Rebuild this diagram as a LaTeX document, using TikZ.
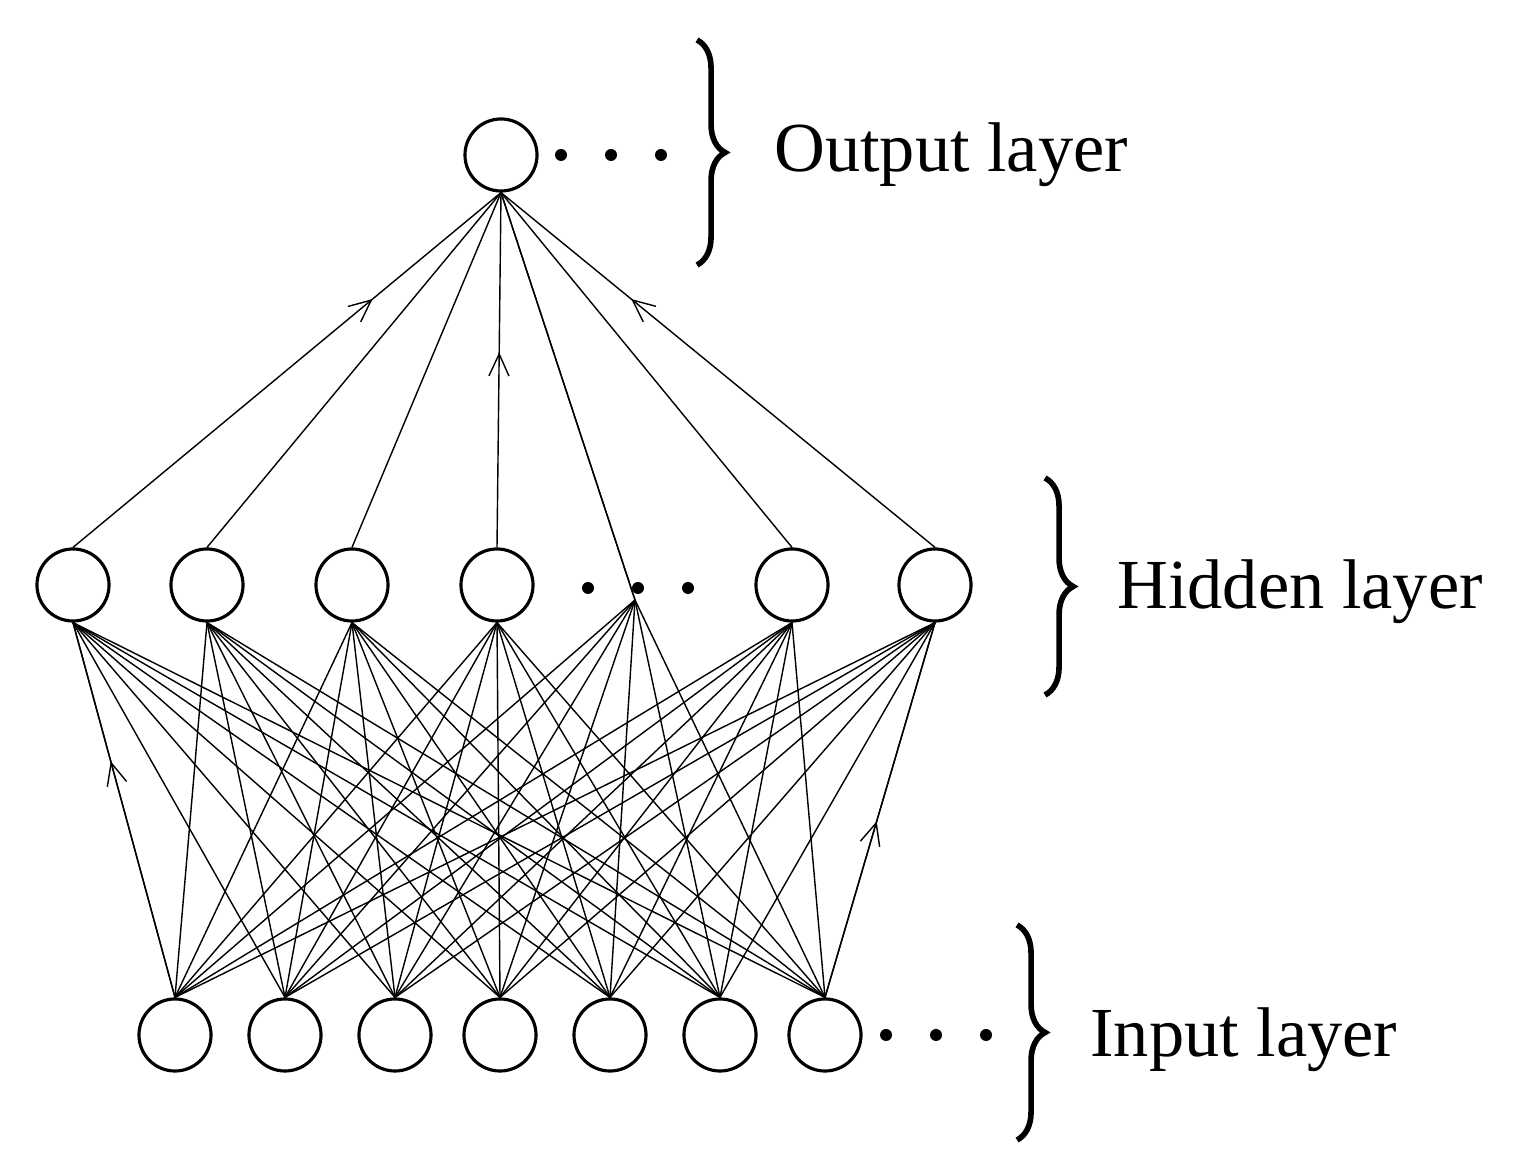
\documentclass[tikz,border=0pt]{standalone}
\usepackage{fontspec}
\setmainfont{Liberation Serif}
\usepackage{tikz}
\usetikzlibrary{decorations.pathreplacing, decorations.markings, arrows.meta}
\tikzstyle{neuron} = [circle, draw=black, line width=0.9pt, minimum size=0.72cm, inner sep=0pt, fill=white]
\tikzstyle{link} = [line width=0.4pt]
\tikzstyle{midarrow} = [link, postaction={decorate}, decoration={markings, mark=at position #1 with {\arrow{Straight Barb[length=2.2mm,width=2mm]}}}]
\tikzstyle{layerbrace} = [decorate, decoration={brace, amplitude=8pt}, line width=1.6pt]
\tikzstyle{label} = [font=\fontsize{20}{24}\selectfont, anchor=west]
\tikzstyle{dot} = [circle, fill=black, inner sep=0pt, minimum size=1.2mm]

\begin{document}
\begin{tikzpicture}[x=0.01cm, y=-0.01cm]
            \useasboundingbox (0,0) rectangle (1539,1168);
            % layers
            \node (out) [neuron] at (501,155) {};
            \foreach \i/\x in {1/73, 2/207, 3/352, 4/497, 6/792, 7/935}
                \node (hid\i) [neuron] at (\x,585) {};
            \coordinate (hid5) at (635,600);
            \foreach \i/\x in {1/175, 2/285, 3/395, 4/500, 5/610, 6/720, 7/825}
                \node (in\i) [neuron] at (\x,1035) {};

            \foreach \x in {561,611,661}
                \node [dot] at (\x,155) {};
            \foreach \x in {588,638,688}
                \node [dot] at (\x,588) {};
            \foreach \x in {886,936,986}
                \node [dot] at (\x,1035) {};

            % connections
            \foreach \j in {2,3,5,6}
                \draw [link] (hid\j.north) -- (out.south);
            \draw [link] (hid5) -- (out.south);
            \draw [midarrow=0.7] (hid1.north) -- (out.south);
            \draw [midarrow=0.55] (hid4.north) -- (out.south);
            \draw [midarrow=0.7] (hid7.north) -- (out.south);
            \foreach \i in {1,...,7}
                \foreach \j in {1,2,3,4,6,7}
                    \draw [link] (in\i.north) -- (hid\j.south);
            \foreach \i in {1,...,7}
                \draw [link] (in\i.north) -- (hid5);
            \draw [midarrow=0.63] (in1.north) -- (hid1.south);
            \draw [midarrow=0.47] (in7.north) -- (hid7.south);

            % braces and labels
            \draw [layerbrace] (697,40) -- (697,265);
            \node [label] at (762,155) {Output layer};
            \draw [layerbrace] (1045,478) -- (1045,695);
            \node [label] at (1105,592) {Hidden layer};
            \draw [layerbrace] (1017,925) -- (1017,1140);
            \node [label] at (1078,1040) {Input layer};
        \end{tikzpicture}
\end{document}
